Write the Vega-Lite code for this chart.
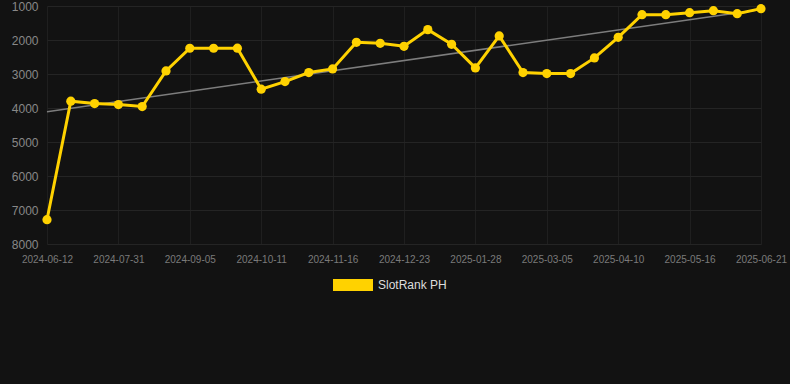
{
  "$schema": "https://vega.github.io/schema/vega-lite/v6.json",
  "autosize": {"type": "none"},
  "width": 743,
  "height": 238,
  "padding": {"left": 47, "top": 6, "right": 0, "bottom": 140},
  "background": "#121212",
  "config": {"view": {"stroke": null}, "font": "Liberation Sans"},
  "datasets": {
    "ranks": [
      {"date": "2024-06-12", "rank": 7285},
      {"date": "2024-07-07", "rank": 3800},
      {"date": "2024-07-19", "rank": 3870},
      {"date": "2024-07-31", "rank": 3900},
      {"date": "2024-08-12", "rank": 3957},
      {"date": "2024-08-24", "rank": 2909},
      {"date": "2024-09-05", "rank": 2243},
      {"date": "2024-09-17", "rank": 2243},
      {"date": "2024-09-29", "rank": 2240},
      {"date": "2024-10-11", "rank": 3448},
      {"date": "2024-10-23", "rank": 3223},
      {"date": "2024-11-04", "rank": 2958},
      {"date": "2024-11-16", "rank": 2850},
      {"date": "2024-11-28", "rank": 2067},
      {"date": "2024-12-11", "rank": 2097},
      {"date": "2024-12-23", "rank": 2185},
      {"date": "2025-01-04", "rank": 1695},
      {"date": "2025-01-16", "rank": 2126},
      {"date": "2025-01-28", "rank": 2821},
      {"date": "2025-02-09", "rank": 1881},
      {"date": "2025-02-21", "rank": 2958},
      {"date": "2025-03-05", "rank": 2987},
      {"date": "2025-03-17", "rank": 2987},
      {"date": "2025-03-29", "rank": 2527},
      {"date": "2025-04-10", "rank": 1920},
      {"date": "2025-04-22", "rank": 1255},
      {"date": "2025-05-04", "rank": 1255},
      {"date": "2025-05-16", "rank": 1196},
      {"date": "2025-05-28", "rank": 1137},
      {"date": "2025-06-09", "rank": 1225},
      {"date": "2025-06-21", "rank": 1078}
    ],
    "trend": [
      {"date": "2024-06-12", "rank": 4110},
      {"date": "2025-06-21", "rank": 1100}
    ]
  },
  "encoding": {
    "x": {
      "field": "date",
      "type": "ordinal",
      "scale": {"type": "point", "padding": 0, "range": [0, 714]},
      "axis": {
        "values": ["2024-06-12", "2024-07-31", "2024-09-05", "2024-10-11", "2024-11-16", "2024-12-23", "2025-01-28", "2025-03-05", "2025-04-10", "2025-05-16", "2025-06-21"],
        "title": null,
        "grid": true,
        "gridColor": "#1f1f1f",
        "domain": false,
        "ticks": false,
        "labelColor": "#7a7a7a",
        "labelFontSize": 10,
        "labelPadding": 10,
        "labelAngle": 0,
        "labelOverlap": false
      }
    },
    "y": {
      "field": "rank",
      "type": "quantitative",
      "scale": {"domain": [1000, 8000], "reverse": true, "nice": false, "zero": false},
      "axis": {
        "values": [1000, 2000, 3000, 4000, 5000, 6000, 7000, 8000],
        "format": "d",
        "title": null,
        "grid": true,
        "gridColor": "#242424",
        "domain": false,
        "ticks": false,
        "labelColor": "#888888",
        "labelFontSize": 12,
        "labelPadding": 9
      }
    }
  },
  "layer": [
    {
      "data": {"name": "trend"},
      "mark": {"type": "line", "color": "#7d7d7d", "strokeWidth": 1.5}
    },
    {
      "data": {"name": "ranks"},
      "mark": {"type": "line", "color": "#FFD200", "strokeWidth": 3}
    },
    {
      "data": {"name": "ranks"},
      "mark": {"type": "point", "filled": true, "opacity": 1, "size": 85},
      "encoding": {
        "color": {
          "datum": "SlotRank PH",
          "scale": {"range": ["#FFD200"]},
          "legend": {
            "title": null,
            "orient": "none",
            "legendX": 286,
            "legendY": 259,
            "symbolType": "M-1,-0.3L1,-0.3L1,0.3L-1,0.3Z",
            "symbolSize": 1600,
            "symbolStrokeWidth": 0,
            "labelColor": "#dddddd",
            "labelFontSize": 12,
            "labelOffset": 5
          }
        }
      }
    }
  ]
}
